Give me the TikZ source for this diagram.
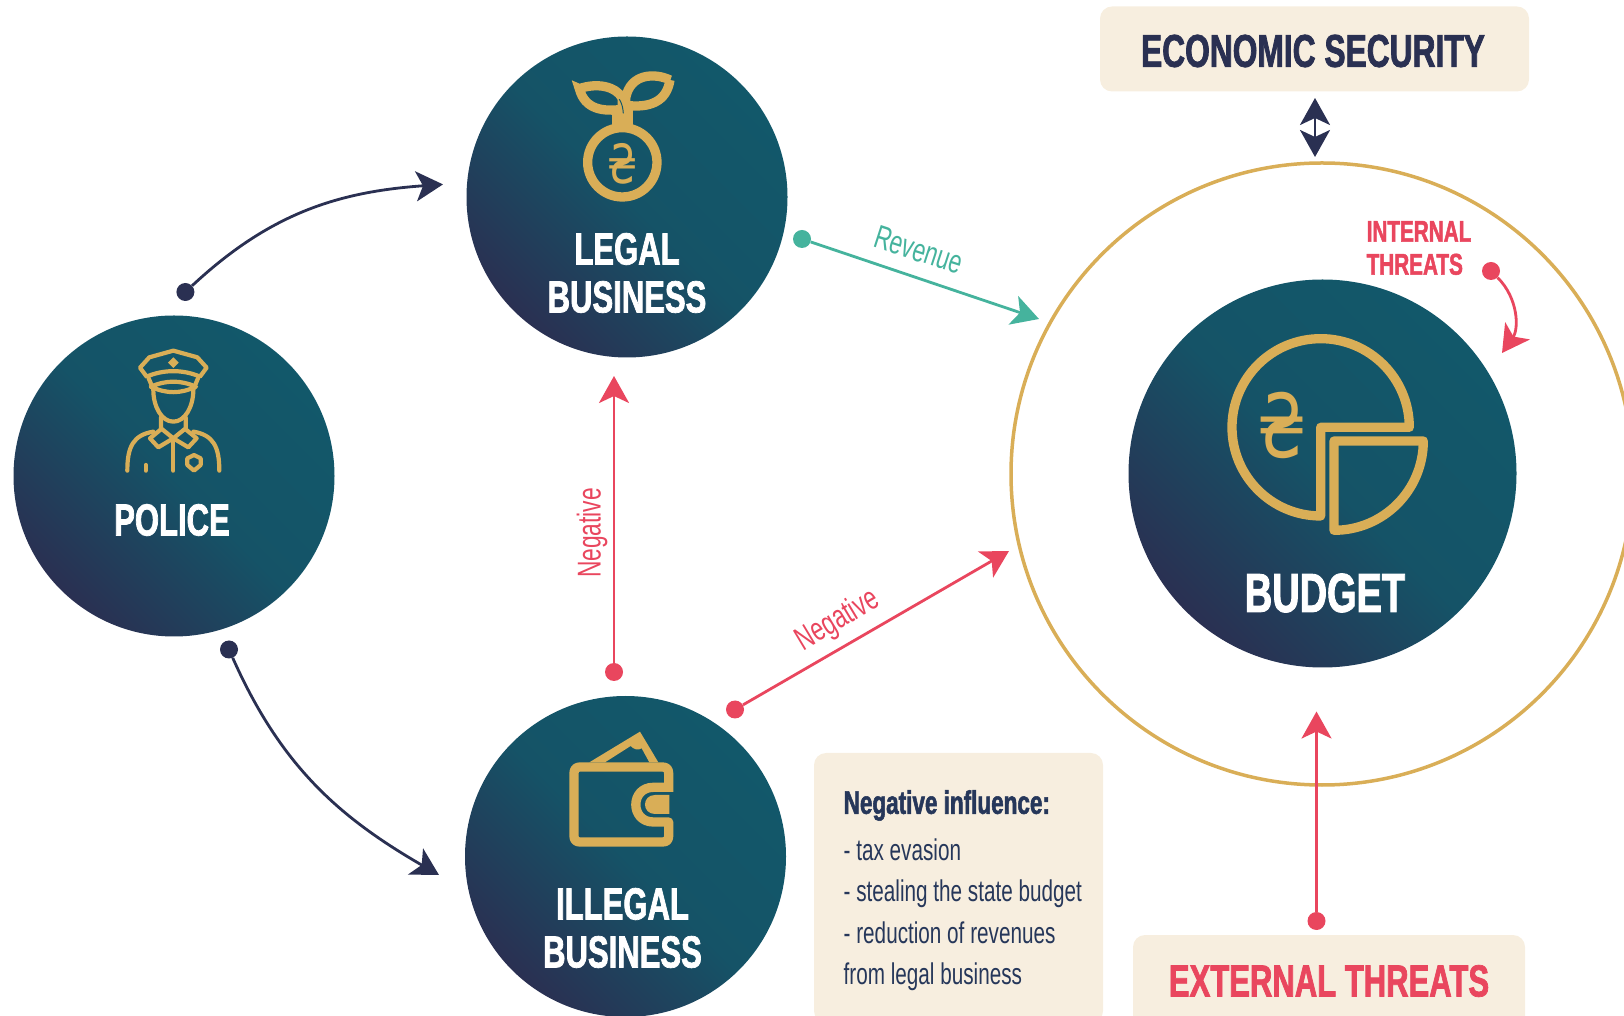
\documentclass[tikz,border=0pt]{standalone}
\usepackage{fontspec}
\setmainfont[FakeStretch=.69,BoldFeatures={FakeBold=1.6}]{Liberation Sans}
\newfontfamily\hrvfont[FakeStretch=.72]{DejaVu Sans}
\usetikzlibrary{arrows.meta}
\definecolor{discTeal}{HTML}{12586A}
\definecolor{discNavy}{HTML}{2A3052}
\definecolor{gold}{HTML}{D9AE57}
\definecolor{cream}{HTML}{F7EEDF}
\definecolor{threat}{HTML}{E9465E}
\definecolor{revenue}{HTML}{45B39D}
\definecolor{inkNavy}{HTML}{26375A}
\tikzset{
    disc/.style={circle,inner sep=0,minimum size=321,top color=discTeal,bottom color=discNavy,middle color=discTeal!88!discNavy,shading angle=-45},
    title/.style={text=white,align=center,font=\bfseries\fontsize{45}{48}\selectfont},
    panel/.style={fill=cream,rounded corners=12},
    lbl/.style={font=\fontsize{33}{33}\selectfont},
    dot/.style={circle,inner sep=0,minimum size=18,fill=#1},
    link/.style={line width=2.8,-{Stealth[length=27,width=30,inset=7]}},
    icon/.style={draw=gold,line width=#1,line join=round,line cap=round},
    icon/.default=4.2
}
\begin{document}
\begin{tikzpicture}[x=1pt,y=1pt]
        \useasboundingbox (0,0) rectangle (1624,1015);

        %%%%%%%%%% Discs %%%%%%%%%%
        \node (police) at (174,539) [disc] {};
        \node (legal) at (627,818) [disc] {};
        \node (illegal) at (625.5,158.5) [disc] {};
        \node (ring) at (1322,541) [circle,inner sep=0,minimum size=622,draw=gold,line width=3.5] {};
        \node (budget) at (1322.5,541.5) [disc,minimum size=388] {};

        %%%%%%%%%% Panels %%%%%%%%%%
        \node (security) at (1314.5,966) [panel,minimum width=429,minimum height=85] {};
        \node (external) at (1329,30) [panel,minimum width=392,minimum height=100] {};
        \node (influence) at (958.5,127) [panel,minimum width=289,minimum height=270] {};

        %%%%%%%%%% Names %%%%%%%%%%
        \node (policeName) at (172,495) [title] {POLICE};
        \node (legalName) at (627,742) [title] {LEGAL\\BUSINESS};
        \node (illegalName) at (622.5,87) [title] {ILLEGAL\\BUSINESS};
        \node (budgetName) at (1325,422) [title,font=\bfseries\fontsize{55}{55}\selectfont] {BUDGET};
        \node (securityName) at (1313,964) [text=discNavy,font=\bfseries\fontsize{46}{46}\selectfont] {ECONOMIC SECURITY};
        \node (externalName) at (1329,34) [text=threat,font=\bfseries\fontsize{45}{45}\selectfont] {EXTERNAL THREATS};
        \node (internalName) at (1419,767) [text=threat,align=left,font=\bfseries\fontsize{30}{33}\selectfont] {INTERNAL\\THREATS};
        \node (influenceText) at (843.5,225) [anchor=north west,inner sep=0,text=inkNavy,align=left,font=\fontsize{30}{41.5}\selectfont] {{\bfseries\fontsize{32.6}{41.5}\selectfont Negative influence:}\\[5pt]- tax evasion\\- stealing the state budget\\- reduction of revenues\\from legal business};

        %%%%%%%%%% Ends %%%%%%%%%%
        \node (policeUp) at (185.4,723) [dot=discNavy] {};
        \node (policeDown) at (229,365.5) [dot=discNavy] {};
        \node (legalOut) at (802,776) [dot=revenue] {};
        \node (illegalUp) at (614,343) [dot=threat] {};
        \node (illegalOut) at (735,305.5) [dot=threat] {};
        \node (externalUp) at (1316.5,94) [dot=threat] {};
        \node (internalOut) at (1491,744) [dot=threat] {};
        \coordinate (legalIn) at (443,830.6);
        \coordinate (illegalIn) at (439,140);
        \coordinate (legalBelow) at (614,639);
        \coordinate (budgetIn) at (1039,696);
        \coordinate (budgetLeft) at (1009,464);
        \coordinate (budgetBelow) at (1316.5,303.5);
        \coordinate (internalIn) at (1502,662);
        \coordinate (securityBelow) at (1315,917);
        \coordinate (ringTop) at (1315,858);

        %%%%%%%%%% Arrows %%%%%%%%%%
        \draw[link,discNavy] (policeUp) to[out=43,in=184] (legalIn);
        \draw[link,discNavy] (policeDown) to[out=-66,in=150] (illegalIn);
        \draw[link,revenue] (legalOut) -- (budgetIn);
        \draw[link,threat] (illegalUp) -- (legalBelow);
        \draw[link,threat] (illegalOut) -- (budgetLeft);
        \draw[link,threat] (externalUp) -- (budgetBelow);
        \draw[link,threat] (internalOut) to[out=-45,in=55] (internalIn);
        \draw[line width=2.8,discNavy,{Stealth[length=27,width=30,inset=7]}-{Stealth[length=27,width=30,inset=7]}] (securityBelow) -- (ringTop);

        \node (revenueLbl) at (919,765) [lbl,text=revenue,rotate=-18] {Revenue};
        \node (negativeUp) at (592,482) [lbl,text=threat,rotate=90] {Negative};
        \node (negativeOut) at (838,394) [lbl,text=threat,rotate=31] {Negative};

        %%%%%%%%%% Icons %%%%%%%%%%
        % police
        \begin{scope}[shift={(90,685)},xscale=.3333,yscale=-.3333]
            \draw[icon] (170,140) -- (150,113) -- (178,82) -- (250,62) -- (322,82) -- (350,113) -- (330,140) .. controls (280,118) and (220,118) .. cycle;
            \draw[icon] (176,145) -- (190,178) (324,145) -- (310,178);
            \draw[icon] (182,170) .. controls (230,150) and (270,150) .. (318,170) .. controls (270,192) and (230,192) .. cycle;
            \draw[icon] (190,180) .. controls (190,230) and (215,275) .. (250,275) .. controls (285,275) and (310,230) .. (310,180);
            \draw[icon] (213,262) -- (213,295) -- (250,325) -- (287,295) -- (287,262);
            \draw[icon] (213,298) -- (180,325) -- (205,352) -- (250,325) -- (295,352) -- (320,325) -- (287,298);
            \draw[icon] (112,422) .. controls (112,350) and (130,315) .. (190,305);
            \draw[icon] (388,422) .. controls (388,350) and (370,315) .. (310,305);
            \draw[icon] (250,335) -- (250,422) (167,405) -- (167,422);
            \draw[icon] (292,385) -- (312,375) -- (332,385) -- (332,405) -- (312,422) -- (292,405) -- cycle;
            \fill[gold] (250,82) -- (266,98) -- (250,114) -- (234,98) -- cycle;
        \end{scope}
        % plant with coin
        \begin{scope}[shift={(450,985)},xscale=.3333,yscale=-.3333]
            \draw[icon=9.3] (517,397) circle (104);
            \draw[icon=9.3,line join=miter] (388,176) .. controls (440,158) and (498,168) .. (517,205) -- (517,238) .. controls (460,245) and (405,240) .. cycle;
            \draw[icon=9.3,line join=miter] (660,150) .. controls (615,128) and (540,130) .. (527,205) -- (527,226) .. controls (600,235) and (650,215) .. cycle;
            \fill[gold] (485,232) rectangle (550,295);
            \draw[discTeal,line width=1] (508,208) .. controls (516,220) and (519,235) .. (520,250);
        \end{scope}
        \node (legalCoin) at (623,851) [text=gold,inner sep=0,font=\hrvfont\fontsize{54}{54}\selectfont] {₴};
        % wallet
        \begin{scope}[shift={(540,305)},xscale=.3333,yscale=-.3333]
            \draw[icon=9.3,line cap=butt] (400,232) -- (340,232) .. controls (270,232) and (270,336) .. (340,336) -- (386,336) -- (386,378) .. controls (386,390) and (380,396) .. (368,396) -- (120,396) .. controls (108,396) and (102,390) .. (102,378) -- (102,190) .. controls (102,178) and (108,171) .. (120,171) -- (368,171) .. controls (380,171) and (386,178) .. (386,190) -- (386,245);
            \fill[gold] (388,255) -- (345,255) .. controls (305,255) and (305,312) .. (345,312) -- (388,312) -- cycle;
            \fill[gold] (148,157) -- (300,65) -- (355,157) -- (328,157) -- (305,115) .. controls (295,122) and (280,118) .. (272,108) -- (195,157) -- cycle;
        \end{scope}
        % pie chart
        \begin{scope}[shift={(1200,705)},xscale=.3333,yscale=-.3333]
            \draw[icon=9.3] (628,352) arc[start angle=0,end angle=-270,radius=266] -- (362,352) -- cycle;
            \draw[icon=9.3] (670,393) arc[start angle=0,end angle=90,radius=268] -- (402,393) -- cycle;
        \end{scope}
        \node (budgetCoin) at (1282,590) [text=gold,inner sep=0,font=\hrvfont\fontsize{88}{88}\selectfont] {₴};
    \end{tikzpicture}
\end{document}
